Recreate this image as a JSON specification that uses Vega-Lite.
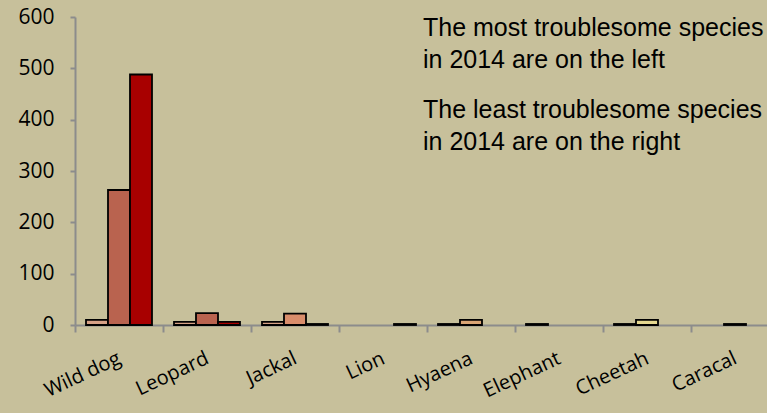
{
  "$schema": "https://vega.github.io/schema/vega-lite/v6.json",
  "width": 692,
  "height": 308,
  "autosize": {"type": "none"},
  "padding": {"left": 75, "top": 17, "right": 0, "bottom": 88},
  "background": "#c7c09b",
  "config": {"view": {"stroke": null}, "font": "Open Sans"},
  "datasets": {
    "bars": [
      {"species": "Wild dog", "slot": 1, "tone": "t1", "count": 10},
      {"species": "Wild dog", "slot": 2, "tone": "t2", "count": 263},
      {"species": "Wild dog", "slot": 3, "tone": "t3", "count": 488},
      {"species": "Leopard", "slot": 1, "tone": "t1", "count": 6},
      {"species": "Leopard", "slot": 2, "tone": "t2", "count": 23},
      {"species": "Leopard", "slot": 3, "tone": "t3", "count": 6},
      {"species": "Jackal", "slot": 1, "tone": "t1", "count": 6},
      {"species": "Jackal", "slot": 2, "tone": "t4", "count": 22},
      {"species": "Jackal", "slot": 3, "tone": "t3", "count": 2},
      {"species": "Lion", "slot": 3, "tone": "t3", "count": 2},
      {"species": "Hyaena", "slot": 1, "tone": "t1", "count": 2},
      {"species": "Hyaena", "slot": 2, "tone": "t5", "count": 10},
      {"species": "Elephant", "slot": 1, "tone": "t1", "count": 2},
      {"species": "Cheetah", "slot": 1, "tone": "t1", "count": 2},
      {"species": "Cheetah", "slot": 2, "tone": "t6", "count": 10},
      {"species": "Caracal", "slot": 2, "tone": "t2", "count": 2}
    ],
    "notes": [
      {"species": "Hyaena", "count": 563, "text": "The most troublesome species"},
      {"species": "Hyaena", "count": 501, "text": "\u00a0in 2014 are on the left"},
      {"species": "Hyaena", "count": 403, "text": "The least troublesome species"},
      {"species": "Hyaena", "count": 341, "text": "\u00a0in 2014 are on the right"}
    ]
  },
  "layer": [
    {
      "data": {"name": "bars"},
      "mark": {"type": "bar", "stroke": "black", "strokeWidth": 1.8},
      "encoding": {
        "x": {
          "field": "species",
          "type": "nominal",
          "scale": {
            "domain": ["Wild dog", "Leopard", "Jackal", "Lion", "Hyaena", "Elephant", "Cheetah", "Caracal"],
            "range": [0, 704],
            "paddingInner": 0,
            "paddingOuter": 0
          },
          "axis": {
            "title": null,
            "tickBand": "extent",
            "labelAngle": -25,
            "labelAlign": "right",
            "labelBaseline": "middle",
            "labelPadding": 25,
            "labelFontSize": 20,
            "labelColor": "black",
            "labelFont": "Open Sans",
            "tickSize": 7,
            "tickColor": "#8c8c8c",
            "tickWidth": 2,
            "domainColor": "#8c8c8c",
            "domainWidth": 2
          }
        },
        "xOffset": {
          "field": "slot",
          "type": "ordinal",
          "scale": {"domain": [1, 2, 3], "paddingOuter": 0.5, "paddingInner": 0}
        },
        "y": {
          "field": "count",
          "type": "quantitative",
          "scale": {"domain": [0, 600]},
          "axis": {
            "title": null,
            "values": [0, 100, 200, 300, 400, 500, 600],
            "grid": false,
            "labelFontSize": 21,
            "labelColor": "black",
            "labelFont": "Open Sans",
            "labelPadding": 16,
            "tickSize": 5,
            "tickColor": "#8c8c8c",
            "tickWidth": 2,
            "domainColor": "#8c8c8c",
            "domainWidth": 2
          }
        },
        "color": {
          "field": "tone",
          "type": "nominal",
          "scale": {
            "domain": ["t1", "t2", "t3", "t4", "t5", "t6"],
            "range": ["#d6a186", "#b9634f", "#a80000", "#d98d6b", "#d9a474", "#e5d890"]
          },
          "legend": null
        }
      }
    },
    {
      "data": {"name": "notes"},
      "mark": {"type": "text", "align": "left", "baseline": "alphabetic", "font": "Liberation Sans", "fontSize": 25, "color": "black", "dx": -4},
      "encoding": {
        "x": {"field": "species", "type": "nominal", "bandPosition": 0},
        "y": {"field": "count", "type": "quantitative"},
        "text": {"field": "text"}
      }
    }
  ]
}
